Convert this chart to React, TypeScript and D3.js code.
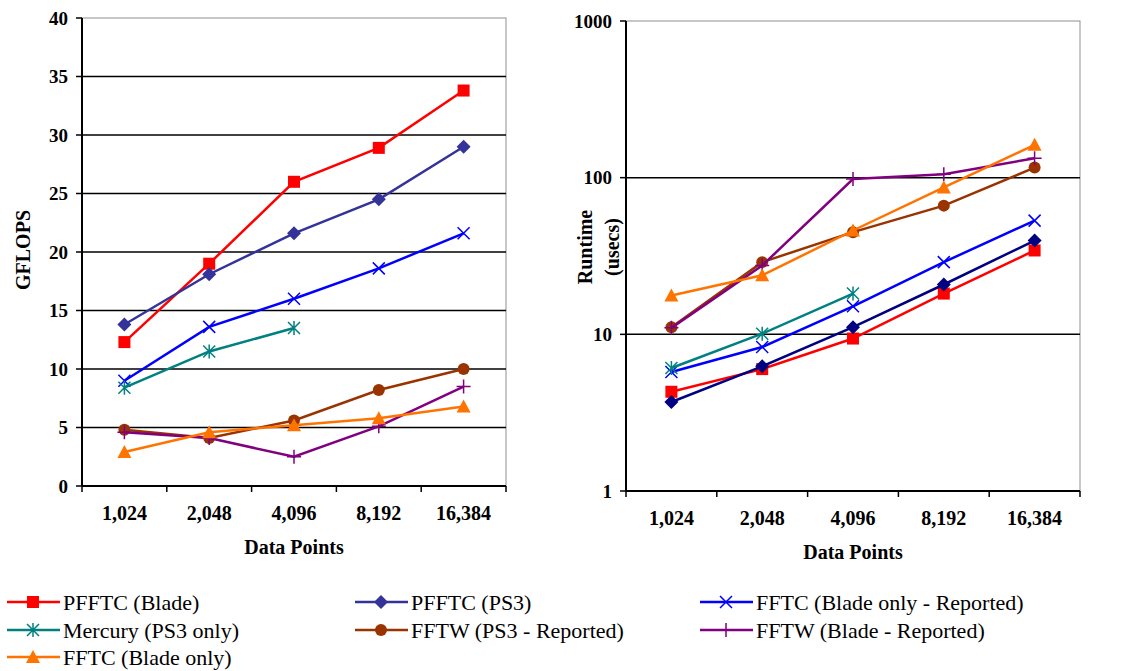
import { useEffect, useRef } from 'react';
import * as d3 from 'd3';

const categories = ['1,024', '2,048', '4,096', '8,192', '16,384'];
const gflopsTicks = [0, 5, 10, 15, 20, 25, 30, 35, 40];
const runtimeTicks = [1, 10, 100, 1000];

// GFLOPS (left chart)
const pfftcBladeGflops = [12.3, 19.0, 26.0, 28.9, 33.8];
const pfftcPs3Gflops = [13.8, 18.1, 21.6, 24.5, 29.0];
const fftcReportedGflops = [9.0, 13.6, 16.0, 18.6, 21.6];
const mercuryGflops = [8.4, 11.5, 13.5, null, null];
const fftwPs3Gflops = [4.8, 4.1, 5.6, 8.2, 10.0];
const fftwBladeGflops = [4.6, 4.1, 2.5, 5.1, 8.5];
const fftcBladeGflops = [2.9, 4.6, 5.2, 5.8, 6.8];

// Runtime in usecs (right chart)
const pfftcBladeRuntime = [4.3, 6.0, 9.4, 18.2, 34.3];
const pfftcPs3Runtime = [3.7, 6.25, 11.1, 20.8, 39.7];
const fftcReportedRuntime = [5.75, 8.3, 15.1, 28.9, 53.2];
const mercuryRuntime = [6.1, 10.1, 18.2, null, null];
const fftwPs3Runtime = [11.1, 28.9, 44.9, 66.3, 116];
const fftwBladeRuntime = [11.0, 27.5, 98, 105, 133];
const fftcBladeRuntime = [17.7, 23.8, 46, 86.7, 162];

const series = [
  { name: 'PFFTC (Blade)', color: '#ff0000', rightColor: '#ff0000', marker: 'square', left: pfftcBladeGflops, right: pfftcBladeRuntime },
  { name: 'PFFTC (PS3)', color: '#333399', rightColor: '#000080', marker: 'diamond', left: pfftcPs3Gflops, right: pfftcPs3Runtime },
  { name: 'FFTC (Blade only - Reported)', color: '#0000ff', rightColor: '#0000ff', marker: 'x', left: fftcReportedGflops, right: fftcReportedRuntime },
  { name: 'Mercury (PS3 only)', color: '#008080', rightColor: '#008080', marker: 'star', left: mercuryGflops, right: mercuryRuntime },
  { name: 'FFTW (PS3 - Reported)', color: '#993300', rightColor: '#993300', marker: 'circle', left: fftwPs3Gflops, right: fftwPs3Runtime },
  { name: 'FFTW (Blade - Reported)', color: '#800080', rightColor: '#800080', marker: 'plus', left: fftwBladeGflops, right: fftwBladeRuntime },
  { name: 'FFTC (Blade only)', color: '#ff7400', rightColor: '#ff7400', marker: 'triangle', left: fftcBladeGflops, right: fftcBladeRuntime }
];

const FONT = '"Liberation Serif", "DejaVu Serif", serif';

function drawMarker(g, type, x, y, color) {
  const s = 6;
  if (type === 'square') {
    g.append('rect').attr('x', x - s).attr('y', y - s).attr('width', 2 * s).attr('height', 2 * s).attr('fill', color);
  } else if (type === 'diamond') {
    g.append('path').attr('d', `M${x},${y - 7}L${x + 7},${y}L${x},${y + 7}L${x - 7},${y}Z`).attr('fill', color);
  } else if (type === 'triangle') {
    g.append('path').attr('d', `M${x},${y - 7}L${x + 7},${y + 6}L${x - 7},${y + 6}Z`).attr('fill', color);
  } else if (type === 'circle') {
    g.append('circle').attr('cx', x).attr('cy', y).attr('r', 6).attr('fill', color);
  } else if (type === 'x') {
    g.append('path').attr('d', `M${x - 6},${y - 6}L${x + 6},${y + 6}M${x - 6},${y + 6}L${x + 6},${y - 6}`)
      .attr('stroke', color).attr('stroke-width', 1.5);
  } else if (type === 'plus') {
    g.append('path').attr('d', `M${x - 7},${y}L${x + 7},${y}M${x},${y - 7}L${x},${y + 7}`)
      .attr('stroke', color).attr('stroke-width', 1.5);
  } else if (type === 'star') {
    g.append('path').attr('d', `M${x - 6},${y - 6}L${x + 6},${y + 6}M${x - 6},${y + 6}L${x + 6},${y - 6}M${x},${y - 7}L${x},${y + 7}`)
      .attr('stroke', color).attr('stroke-width', 1.5);
  }
}

export default function App() {
  const svgRef = useRef(null);

  useEffect(() => {
    const width = 1139;
    const height = 671;
    const svg = d3.select(svgRef.current);
    svg.selectAll('*').remove();
    svg.attr('width', width).attr('height', height)
      .attr('font-family', FONT);

    const drawPanel = (opts) => {
      const { x0, x1, yTop, yBot, y, ticks, tickFmt, key, colorKey } = opts;
      const g = svg.append('g');
      const x = d3.scaleBand().domain(categories).range([x0, x1]).padding(0);

      // plot border (gray top/right)
      g.append('rect')
        .attr('x', x0).attr('y', yTop).attr('width', x1 - x0).attr('height', yBot - yTop)
        .attr('fill', 'none').attr('stroke', '#909090').attr('stroke-width', 1);

      // gridlines
      ticks.forEach(t => {
        if (y(t) > yTop + 1 && y(t) < yBot - 1) {
          g.append('line').attr('x1', x0).attr('x2', x1).attr('y1', y(t)).attr('y2', y(t))
            .attr('stroke', '#000').attr('stroke-width', 1.5);
        }
      });

      // y axis
      g.append('line').attr('x1', x0).attr('x2', x0).attr('y1', yTop).attr('y2', yBot)
        .attr('stroke', '#000').attr('stroke-width', 2);
      ticks.forEach(t => {
        g.append('line').attr('x1', x0 - 6).attr('x2', x0).attr('y1', y(t)).attr('y2', y(t))
          .attr('stroke', '#000').attr('stroke-width', 1.5);
        g.append('text')
          .attr('x', x0 - 14).attr('y', y(t)).attr('dy', '0.35em')
          .attr('text-anchor', 'end')
          .attr('font-family', FONT).attr('font-size', 19).attr('font-weight', 'bold')
          .text(tickFmt(t));
      });

      // x axis
      g.append('line').attr('x1', x0).attr('x2', x1).attr('y1', yBot).attr('y2', yBot)
        .attr('stroke', '#000').attr('stroke-width', 2);
      const edges = categories.map(c => x(c)).concat([x1]);
      edges.forEach(e => {
        g.append('line').attr('x1', e).attr('x2', e).attr('y1', yBot).attr('y2', yBot + 6)
          .attr('stroke', '#000').attr('stroke-width', 1.5);
      });
      categories.forEach(c => {
        g.append('text')
          .attr('x', x(c) + x.bandwidth() / 2).attr('y', yBot + 27).attr('dy', '0.35em')
          .attr('text-anchor', 'middle')
          .attr('font-family', FONT).attr('font-size', 20).attr('font-weight', 'bold')
          .text(c);
      });
      g.append('text')
        .attr('x', (x0 + x1) / 2).attr('y', yBot + 61).attr('dy', '0.35em')
        .attr('text-anchor', 'middle')
        .attr('font-family', FONT).attr('font-size', 20).attr('font-weight', 'bold')
        .text('Data Points');

      // series
      series.forEach(s => {
        const vals = s[key];
        const color = s[colorKey];
        const pts = vals.map((v, i) => ({ v, c: categories[i] })).filter(d => d.v != null);
        const line = d3.line()
          .x(d => x(d.c) + x.bandwidth() / 2)
          .y(d => y(d.v));
        g.append('path').attr('d', line(pts)).attr('fill', 'none')
          .attr('stroke', color).attr('stroke-width', 2.5);
        pts.forEach(d => drawMarker(g, s.marker, x(d.c) + x.bandwidth() / 2, y(d.v), color));
      });
      return g;
    };

    const yLeft = d3.scaleLinear().domain([0, 40]).range([486, 18]);
    drawPanel({ x0: 82, x1: 506, yTop: 18, yBot: 486, y: yLeft, ticks: gflopsTicks, tickFmt: d => String(d), key: 'left', colorKey: 'color' });

    const yRight = d3.scaleLog().domain([1, 1000]).range([491, 21]);
    drawPanel({ x0: 626, x1: 1080, yTop: 21, yBot: 491, y: yRight, ticks: runtimeTicks, tickFmt: d => String(d), key: 'right', colorKey: 'rightColor' });

    // y axis titles
    const title = (tx, ty, label) => svg.append('text')
      .attr('transform', `translate(${tx},${ty}) rotate(-90)`)
      .attr('text-anchor', 'middle')
      .attr('font-family', FONT).attr('font-size', 20).attr('font-weight', 'bold')
      .text(label);
    title(30, 250, 'GFLOPS');
    title(592, 247, 'Runtime');
    title(619, 247, '(usecs)');

    // legend
    const legend = svg.append('g');
    const colX = [7, 355, 700];
    const rowY = [602, 630, 657];
    series.forEach((s, i) => {
      const lx = colX[i % 3];
      const ly = rowY[Math.floor(i / 3)];
      legend.append('line').attr('x1', lx).attr('x2', lx + 53).attr('y1', ly).attr('y2', ly)
        .attr('stroke', s.color).attr('stroke-width', 2.5);
      drawMarker(legend, s.marker, lx + 26, ly, s.color);
      legend.append('text')
        .attr('x', lx + 56).attr('y', ly).attr('dy', '0.35em')
        .attr('font-family', FONT).attr('font-size', 22)
        .text(s.name);
    });
  }, []);

  return <svg ref={svgRef} style={{ position: 'absolute', left: 0, top: 0 }}></svg>;
}
